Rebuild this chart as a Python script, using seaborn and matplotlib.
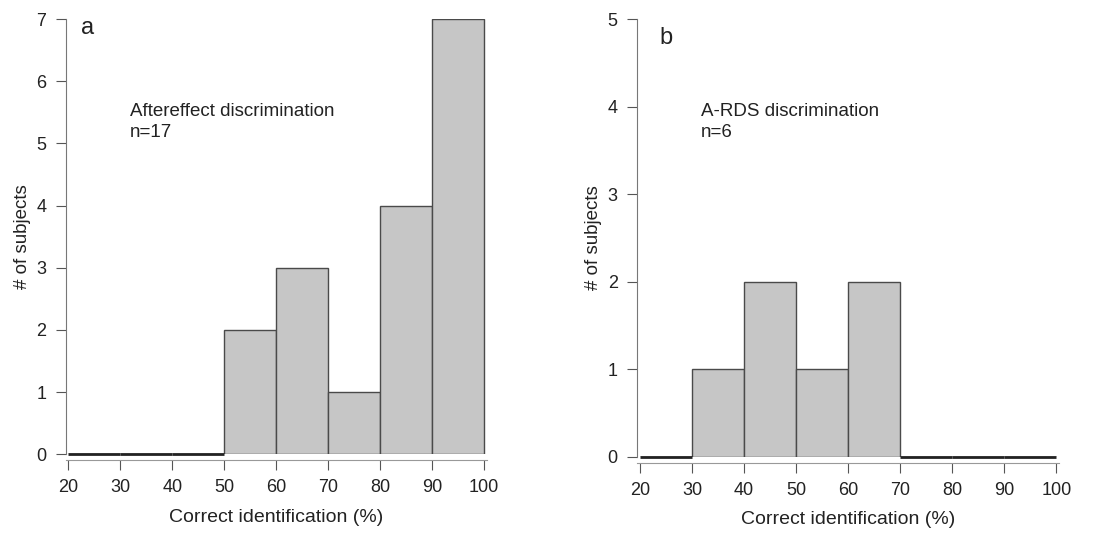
import numpy as np
import matplotlib
matplotlib.use('Agg')
import matplotlib.pyplot as plt
import seaborn as sns

# ==================== 数据 ====================
bin_edges = [20, 30, 40, 50, 60, 70, 80, 90, 100]
counts_a = [0, 0, 0, 2, 3, 1, 4, 7]
counts_b = [0, 1, 2, 1, 2, 0, 0, 0]
label_a = 'Aftereffect discrimination'
n_a = 'n=17'
label_b = 'A-RDS discrimination'
n_b = 'n=6'

sns.set_style('ticks')
plt.rcParams['font.family'] = ['Liberation Sans', 'DejaVu Sans']

bar_color = '#c6c6c6'
edge_color = '#4a4a4a'
text_color = '#222222'

fig = plt.figure(figsize=(11.16, 5.44), dpi=100)
ax_a = fig.add_axes([0.059, 0.165, 0.377, 0.80])
ax_b = fig.add_axes([0.571, 0.160, 0.378, 0.805])

centers = np.array(bin_edges[:-1]) + 5


def draw_panel(ax, counts, ymax, letter, letter_pos, label, n_text, text_x, text_y):
    sns.histplot(x=centers, weights=counts, bins=bin_edges, ax=ax,
                 color=bar_color, edgecolor=edge_color, linewidth=1.0, alpha=1)
    # 空的分组画成底部的深色线
    for lo, hi, c in zip(bin_edges[:-1], bin_edges[1:], counts):
        if c == 0:
            ax.hlines(0, lo, hi, color='#222222', linewidth=2.0, zorder=3, clip_on=False)
    ax.set_xlim(19.5, 100.5)
    ax.set_ylim(0, ymax)
    ax.set_xticks(range(20, 101, 10))
    ax.set_yticks(range(0, ymax + 1))
    ax.set_xlabel('Correct identification (%)', fontsize=14, color=text_color, labelpad=9)
    ax.set_ylabel('# of subjects', fontsize=13.5, color=text_color, labelpad=4)
    ax.tick_params(labelsize=13, colors='#555555', labelcolor=text_color, length=7, pad=7)
    sns.despine(ax=ax, offset={'bottom': 4})
    ax.spines['left'].set_color('#777777')
    ax.spines['bottom'].set_color('#999999')
    ax.text(letter_pos[0], letter_pos[1], letter, fontsize=17, color=text_color,
            va='center', ha='left')
    ax.text(text_x, text_y[0], label, fontsize=13.5, color=text_color, va='center')
    ax.text(text_x, text_y[1], n_text, fontsize=13.5, color=text_color, va='center')


draw_panel(ax_a, counts_a, 7, 'a', (22.5, 6.85), label_a, n_a, 31.8, (5.52, 5.17))
draw_panel(ax_b, counts_b, 5, 'b', (23.8, 4.78), label_b, n_b, 31.8, (3.95, 3.7))

fig.savefig('out.png', dpi=100)
